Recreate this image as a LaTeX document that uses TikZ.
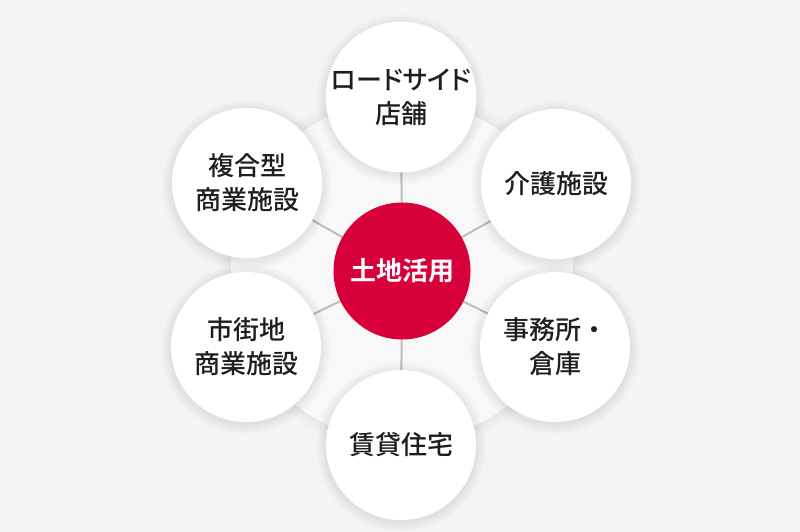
\documentclass[tikz,border=0pt]{standalone}
\usepackage{fontspec}
\usetikzlibrary{calc}
\setmainfont{Noto Sans CJK JP}[UprightFont={* Medium}, BoldFont={* Bold}]
\newfontfamily\paltfont{Noto Sans CJK JP}[UprightFont={* Medium}, RawFeature=+palt]
\definecolor{bgc}{HTML}{F4F4F4}
\definecolor{ringc}{HTML}{F8F8F8}
\definecolor{linec}{HTML}{BDBDBD}
\definecolor{redc}{HTML}{D7003A}
\definecolor{txtc}{HTML}{1E1E1E}
\tikzset{
  sat/.style={circle, fill=white, minimum size=150pt, inner sep=0pt, align=center,
    font=\fontsize{26}{34}\selectfont, text=txtc},
  hub/.style={circle, fill=redc, minimum size=137pt, inner sep=0pt, align=center,
    font=\fontsize{26}{30}\selectfont\bfseries, text=white},
  link/.style={draw=linec, line width=2pt}
}
\begin{document}
\begin{tikzpicture}[x=1pt,y=-1pt]
\fill[bgc] (0,0) rectangle (800,532);
\useasboundingbox (0,0) rectangle (800,532);
\coordinate (c) at (402,271);
% soft shadow of the big ring
\foreach \i in {1,...,12} {\fill[black, opacity=0.004] (c) circle ({171+\i});}
\fill[ringc] (c) circle (171);
% satellite positions
\coordinate (p1) at (401,97);
\coordinate (p2) at (556,184);
\coordinate (p3) at (555,347);
\coordinate (p4) at (401,445);
\coordinate (p5) at (246,347);
\coordinate (p6) at (247,183);
% links
\foreach \k in {1,...,6} {\draw[link] (c) -- (p\k);}
% satellite shadows
\foreach \k in {1,...,6} {
  \foreach \i in {1,...,10} {\fill[black, opacity=0.006] ($(p\k)+(0,2)$) circle ({75+\i});}
}
\node[sat] (n1) at (p1) {{\paltfont ロードサイド}\\店舗};
\node[sat] (n2) at (p2) {介護施設};
\node[sat] (n3) at (p3) {事務所・\\倉庫};
\node[sat] (n4) at (p4) {賃貸住宅};
\node[sat] (n5) at (p5) {市街地\\商業施設};
\node[sat] (n6) at (p6) {複合型\\商業施設};
\node[hub] (hub) at (c) {土地活用};
\end{tikzpicture}
\end{document}
